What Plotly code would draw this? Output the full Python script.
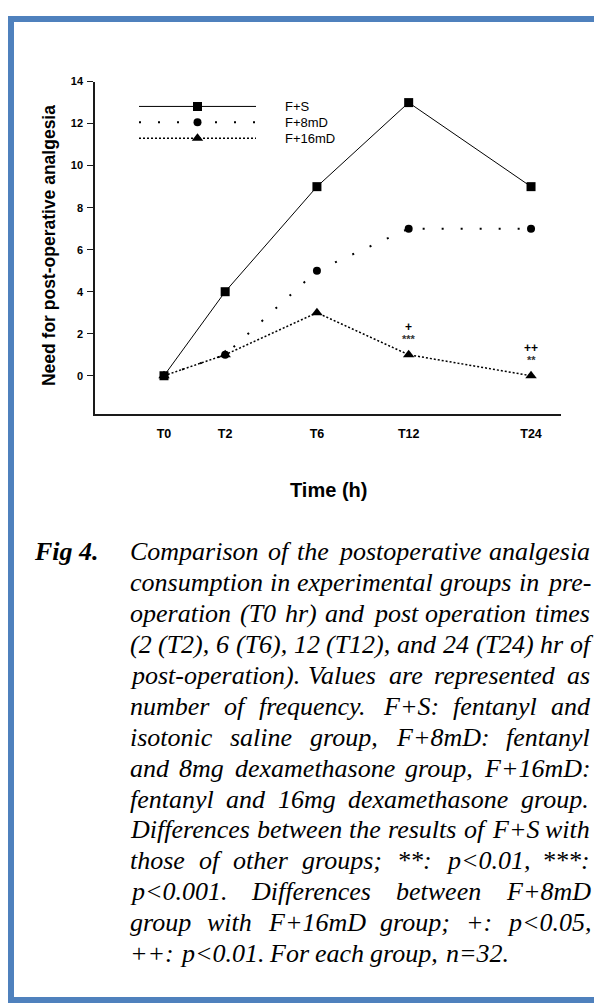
import plotly.graph_objects as go

# ---------------- data ----------------
categories = ["T0", "T2", "T6", "T12", "T24"]
x_positions = [0, 2, 5, 8, 12]          # placement of the time categories on the x axis
f_s = [0, 4, 9, 13, 9]
f_8md = [0, 1, 5, 7, 7]
f_16md = [0, 1, 3, 1, 0]
series_names = ["F+S", "F+8mD", "F+16mD"]
sig_vs_fs = ["", "", "", "***", "**"]     # F+S vs other groups
sig_8_vs_16 = ["", "", "", "+", "++"]     # F+8mD vs F+16mD
y_ticks = [0, 2, 4, 6, 8, 10, 12, 14]

caption_label = "Fig 4."
caption_lines = [
    "Comparison of the postoperative analgesia",
    "consumption in experimental groups in pre-",
    "operation (T0 hr) and post operation times",
    "(2 (T2), 6 (T6), 12 (T12), and 24 (T24) hr of",
    "post-operation). Values are represented as",
    "number of frequency. F+S: fentanyl and",
    "isotonic saline group, F+8mD: fentanyl",
    "and 8mg dexamethasone group, F+16mD:",
    "fentanyl and 16mg dexamethasone group.",
    "Differences between the results of F+S with",
    "those of other groups; **: p<0.01, ***:",
    "p<0.001. Differences between F+8mD",
    "group with F+16mD group; +: p<0.05,",
    "++: p<0.01. For each group, n=32.",
]

# ---------------- helpers ----------------
OFF = 8                      # page (body) margin of the html page
W, H = 594, 995              # figure size so the frame reaches the window edges


def px(x):
    return (x - OFF) / W


def py(y):
    return 1 - (y - OFF) / H


SANS = "Liberation Sans, Arial, sans-serif"
SERIF = "Liberation Serif, Times New Roman, serif"
BLUE = "#4F81BD"
AXIS = "#1a1a1a"

styles = {
    "F+S": dict(line=dict(color="black", width=1),
                marker=dict(symbol="square", size=9, color="black")),
    "F+8mD": dict(line=dict(color="black", width=2, dash="2px,17px"),
                  marker=dict(symbol="circle", size=8, color="black")),
    "F+16mD": dict(line=dict(color="black", width=1.5, dash="2px,2px"),
                   marker=dict(symbol="triangle-up", size=10, color="black")),
}
values = {"F+S": f_s, "F+8mD": f_8md, "F+16mD": f_16md}

fig = go.Figure()

for name in ["F+8mD", "F+16mD", "F+S"]:
    fig.add_trace(go.Scatter(
        x=x_positions, y=values[name], mode="lines+markers", name=name,
        text=categories, showlegend=False, xaxis="x", yaxis="y",
        cliponaxis=False, **styles[name]))

# custom legend drawn on a small hidden subplot
legend_rows = [2.5, 1.5, 0.5]
legend_rows_px = [101, 117, 133]
for name, row in zip(series_names, legend_rows):
    st = styles[name]
    fig.add_trace(go.Scatter(x=[0, 1], y=[row, row], mode="lines", line=st["line"],
                             xaxis="x2", yaxis="y2", showlegend=False, hoverinfo="skip"))
    fig.add_trace(go.Scatter(x=[0.5], y=[row], mode="markers", marker=st["marker"],
                             xaxis="x2", yaxis="y2", showlegend=False, hoverinfo="skip"))

annotations = []
for name, rpx in zip(series_names, legend_rows_px):
    annotations.append(dict(
        x=px(284), y=py(rpx), xref="paper", yref="paper", text=name, showarrow=False,
        xanchor="left", yanchor="middle", borderpad=0,
        font=dict(family=SANS, size=13, color="black")))

# significance marks above F+16mD points
for i, (lo, up) in enumerate(zip(sig_vs_fs, sig_8_vs_16)):
    if up:
        annotations.append(dict(x=x_positions[i], y=f_16md[i], xref="x", yref="y",
                                text=up, showarrow=False, yshift=28,
                                font=dict(family=SANS, size=12, color="black", weight="bold")))
    if lo:
        annotations.append(dict(x=x_positions[i], y=f_16md[i], xref="x", yref="y",
                                text=lo, showarrow=False, yshift=16,
                                font=dict(family=SANS, size=11, color="#333333", weight="bold")))

# axis titles
annotations.append(dict(x=px(49), y=py(241.5), xref="paper", yref="paper",
                        text="Need for post-operative analgesia", textangle=-90,
                        showarrow=False, xanchor="center", yanchor="middle",
                        font=dict(family=SANS, size=17.5, color="black", weight="bold")))
annotations.append(dict(x=px(328), y=py(487), xref="paper", yref="paper",
                        text="Time (h)", showarrow=False, xanchor="center", yanchor="middle",
                        font=dict(family=SANS, size=20, color="black", weight="bold")))

# caption (justified, word by word using Times metrics)
TIMES_I = {
    " ": 250, "(": 333, ")": 333, "*": 500, "+": 675, ",": 250, "-": 333, ".": 250,
    ":": 333, ";": 333, "<": 675, "=": 675,
    "A": 611, "B": 611, "C": 667, "D": 722, "E": 611, "F": 611, "G": 722, "H": 722,
    "I": 333, "J": 444, "K": 667, "L": 556, "M": 833, "N": 667, "O": 722, "P": 611,
    "Q": 722, "R": 611, "S": 500, "T": 556, "U": 722, "V": 611, "W": 833, "X": 611,
    "Y": 556, "Z": 556,
    "a": 500, "b": 500, "c": 444, "d": 500, "e": 444, "f": 278, "g": 500, "h": 500,
    "i": 278, "j": 278, "k": 444, "l": 278, "m": 722, "n": 500, "o": 500, "p": 500,
    "q": 500, "r": 389, "s": 389, "t": 278, "u": 500, "v": 444, "w": 667, "x": 444,
    "y": 444, "z": 389,
}
CAP_FS = 26
CAP_LEFT, CAP_RIGHT = 129, 589
CAP_TOP, CAP_STEP = 549, 31.1


def word_w(w):
    return sum(TIMES_I.get(c, 500) for c in w) * CAP_FS / 1000.0


def esc(s):
    return s.replace("&", "&amp;").replace("<", "&lt;").replace(">", "&gt;")


for i, line in enumerate(caption_lines):
    words = line.split(" ")
    widths = [word_w(w) for w in words]
    if i < len(caption_lines) - 1 and len(words) > 1:
        gap = (CAP_RIGHT - CAP_LEFT - sum(widths)) / (len(words) - 1)
    else:
        gap = 250 * CAP_FS / 1000.0
    xcur = CAP_LEFT
    yline = CAP_TOP + CAP_STEP * i
    for w, ww in zip(words, widths):
        annotations.append(dict(x=px(xcur), y=py(yline), xref="paper", yref="paper",
                                text=esc(w), showarrow=False, xanchor="left",
                                yanchor="middle", borderpad=0,
                                font=dict(family=SERIF, size=CAP_FS, color="black",
                                          style="italic")))
        xcur += ww + gap

annotations.append(dict(x=px(33), y=py(CAP_TOP), xref="paper", yref="paper",
                        text=caption_label, showarrow=False, xanchor="left",
                        yanchor="middle", borderpad=0,
                        font=dict(family=SERIF, size=CAP_FS, color="black",
                                  style="italic", weight="bold")))

# page border (blue frame)
shapes = [
    dict(type="rect", xref="paper", yref="paper", x0=px(8), x1=1.0, y0=py(16), y1=py(10),
         fillcolor=BLUE, line=dict(width=0), layer="below"),
    dict(type="rect", xref="paper", yref="paper", x0=px(8), x1=px(14), y0=0.0, y1=py(10),
         fillcolor=BLUE, line=dict(width=0), layer="below"),
    dict(type="rect", xref="paper", yref="paper", x0=px(8), x1=1.0, y0=0.0, y1=py(997),
         fillcolor=BLUE, line=dict(width=0), layer="below"),
]

fig.update_layout(
    width=W, height=H, autosize=False,
    margin=dict(l=0, r=0, t=0, b=0, pad=0),
    paper_bgcolor="white", plot_bgcolor="rgba(0,0,0,0)",
    showlegend=False,
    xaxis=dict(domain=[px(95), px(561)], range=[-2.256, 12.98], anchor="y",
               tickvals=x_positions, ticktext=categories, ticks="",
               showline=True, linecolor=AXIS, linewidth=1.5, showgrid=False,
               zeroline=False, ticklabelstandoff=8,
               tickfont=dict(family=SANS, size=12.5, color="black", weight="bold")),
    yaxis=dict(domain=[py(410), py(76)], range=[-1.8, 14], anchor="x",
               tickvals=y_ticks, ticks="outside", ticklen=6, tickwidth=1, tickcolor=AXIS,
               showline=True, linecolor=AXIS, linewidth=1.5, showgrid=False,
               zeroline=False, ticklabelstandoff=2,
               tickfont=dict(family=SANS, size=11, color="black", weight="bold")),
    xaxis2=dict(domain=[px(139), px(256)], range=[0, 1], anchor="y2", visible=False),
    yaxis2=dict(domain=[py(141), py(93)], range=[0, 3], anchor="x2", visible=False),
    annotations=annotations,
    shapes=shapes,
)

fig.write_html("out.html")
